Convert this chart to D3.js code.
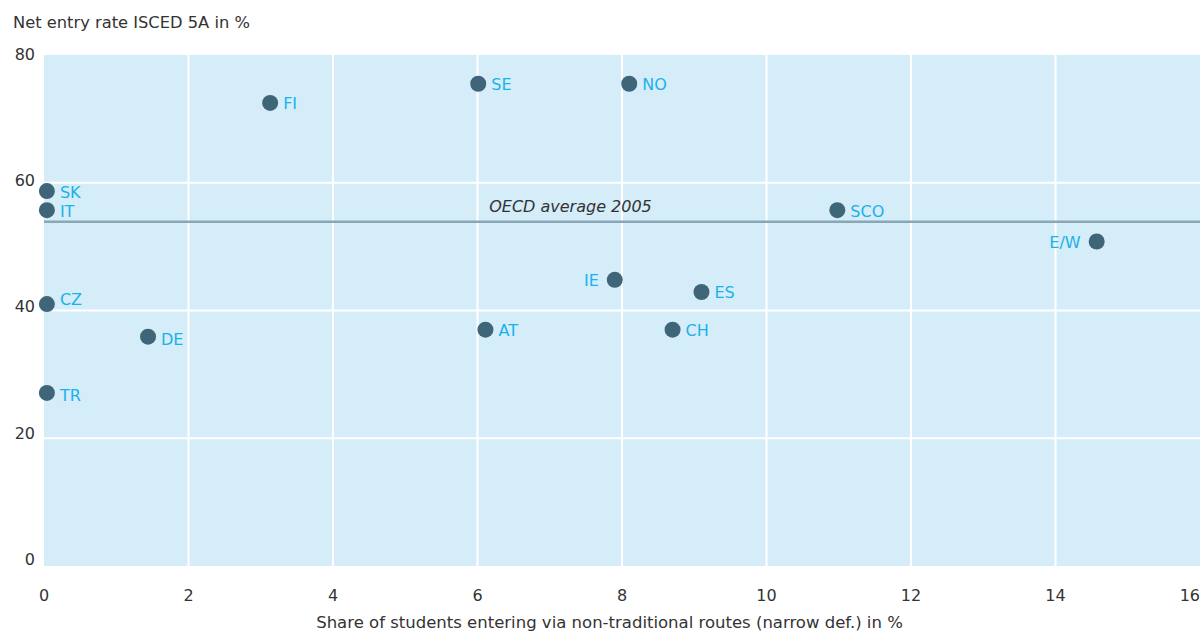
<!DOCTYPE html>
<html>
<head>
<meta charset="utf-8">
<script src="https://cdn.jsdelivr.net/npm/d3@7/dist/d3.min.js"></script>
<style>
  html, body { margin: 0; padding: 0; background: #fff; }
  svg { display: block; }
  text { font-family: "DejaVu Sans", "Open Sans", sans-serif; }
</style>
</head>
<body>
<svg id="chart" width="1204" height="633"></svg>
<script>
// ---- data ----
const countries = ["FI", "SE", "NO", "SK", "IT", "SCO", "E/W", "IE", "ES", "CZ", "DE", "AT", "CH", "TR"];
const nonTraditionalShare = [3.13, 6.01, 8.10, 0.04, 0.04, 10.98, 14.57, 7.90, 9.10, 0.04, 1.44, 6.11, 8.70, 0.04];
const netEntryRate = [72.5, 75.5, 75.5, 58.7, 55.7, 55.7, 50.8, 44.8, 42.9, 41.0, 35.9, 37.0, 37.0, 27.1];
const oecdAverage = 53.9;
const oecdLabel = "OECD average 2005";
const xTicks = [0, 2, 4, 6, 8, 10, 12, 14, 16];
const yTicks = [0, 20, 40, 60, 80];
const yTitle = "Net entry rate ISCED 5A in %";
const xTitle = "Share of students entering via non-traditional routes (narrow def.) in %";

// ---- layout ----
const plot = { left: 44, right: 1200, top: 55, bottom: 566 };
const svg = d3.select("#chart");
const x = d3.scaleLinear().domain([0, 16]).range([plot.left, plot.right]);
const y = d3.scaleLinear().domain([0, 80]).range([plot.bottom, plot.top]);
const yLabelPos = d3.scaleLinear().domain([0, 80]).range([559.5, 54]);

const labelLeft = new Set(["IE", "E/W"]);
const labelDy = { "CZ": -6, "DE": 2, "TR": 2 };

// background
svg.append("rect")
  .attr("x", plot.left).attr("y", plot.top)
  .attr("width", plot.right - plot.left).attr("height", plot.bottom - plot.top)
  .attr("fill", "#d5ecf9");

// grid
svg.append("g").selectAll("line").data(xTicks.filter(d => d > 0 && d < 16)).join("line")
  .attr("x1", d => x(d)).attr("x2", d => x(d))
  .attr("y1", plot.top).attr("y2", plot.bottom)
  .attr("stroke", "#fff").attr("stroke-width", 2);
svg.append("g").selectAll("line").data(yTicks.filter(d => d > 0 && d < 80)).join("line")
  .attr("x1", plot.left).attr("x2", plot.right)
  .attr("y1", d => y(d)).attr("y2", d => y(d))
  .attr("stroke", "#fff").attr("stroke-width", 2);

// axis labels
svg.append("g").selectAll("text").data(yTicks).join("text")
  .attr("x", 35).attr("y", d => yLabelPos(d))
  .attr("text-anchor", "end").attr("dominant-baseline", "central")
  .attr("font-size", 16).attr("fill", "#333")
  .text(d => d);
svg.append("g").selectAll("text").data(xTicks).join("text")
  .attr("x", d => x(d)).attr("y", 595)
  .attr("text-anchor", d => d === 16 ? "end" : "middle").attr("dominant-baseline", "central")
  .attr("font-size", 16).attr("fill", "#333")
  .text(d => d);

svg.append("text").attr("x", 13).attr("y", 28)
  .attr("font-size", 16.3).attr("fill", "#333").text(yTitle);
svg.append("text").attr("x", 609.5).attr("y", 628)
  .attr("text-anchor", "middle")
  .attr("font-size", 16.5).attr("fill", "#333").text(xTitle);

// OECD average line
svg.append("line")
  .attr("x1", plot.left).attr("x2", plot.right)
  .attr("y1", y(oecdAverage)).attr("y2", y(oecdAverage))
  .attr("stroke", "#8ba6b4").attr("stroke-width", 2.5);
svg.append("text").attr("x", 570.5).attr("y", y(oecdAverage) - 10)
  .attr("text-anchor", "middle").attr("font-style", "italic")
  .attr("font-size", 16).attr("fill", "#333").text(oecdLabel);

// points
const pts = countries.map((c, i) => ({ c, xv: nonTraditionalShare[i], yv: netEntryRate[i] }));
const g = svg.append("g");
g.selectAll("circle").data(pts).join("circle")
  .attr("cx", d => x(d.xv)).attr("cy", d => y(d.yv))
  .attr("r", 8).attr("fill", "#3f6578");
g.selectAll("text").data(pts).join("text")
  .attr("x", d => x(d.xv) + (labelLeft.has(d.c) ? -16 : 13))
  .attr("y", d => y(d.yv) + 1 + (labelDy[d.c] || 0))
  .attr("text-anchor", d => labelLeft.has(d.c) ? "end" : "start")
  .attr("dominant-baseline", "central")
  .attr("font-size", 16).attr("fill", "#1ab2ea")
  .text(d => d.c);
</script>
</body>
</html>
